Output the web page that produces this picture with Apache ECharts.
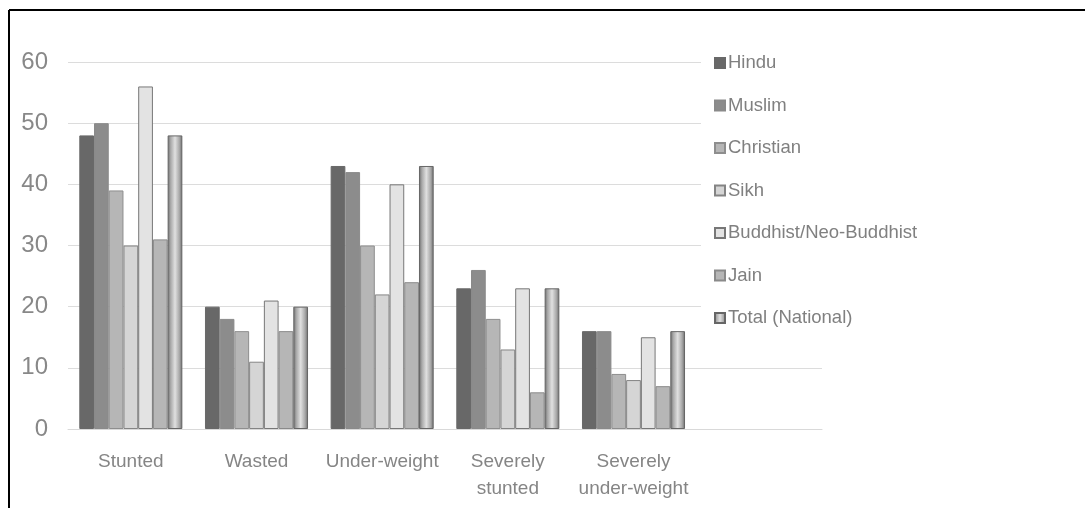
<!DOCTYPE html>
<html>
<head>
<meta charset="utf-8">
<script src="https://cdn.jsdelivr.net/npm/echarts@6/dist/echarts.min.js"></script>
<style>
  html, body { margin: 0; padding: 0; background: #fff; }
  #chart { width: 1085px; height: 508px; }
</style>
</head>
<body>
<div id="chart"></div>
<script>
// Nutrition indicators (%) by religion
const categories = ['Stunted', 'Wasted', 'Under-weight', 'Severely\nstunted', 'Severely\nunder-weight', ''];
const hindu    = [48, 20, 43, 23, 16];
const muslim   = [50, 18, 42, 26, 16];
const christian= [39, 16, 30, 18, 9];
const sikh     = [30, 11, 22, 13, 8];
const buddhist = [56, 21, 40, 23, 15];
const jain     = [31, 16, 24, 6, 7];
const total    = [48, 20, 43, 23, 16];
const yTicks   = [0, 10, 20, 30, 40, 50, 60];

const FONT = '"Liberation Sans", Arial, sans-serif';

const totalGradient = new echarts.graphic.LinearGradient(0, 0, 1, 0, [
  { offset: 0, color: '#6a6a6a' },
  { offset: 0.2, color: '#a8a8a8' },
  { offset: 0.5, color: '#e0e0e0' },
  { offset: 0.8, color: '#a8a8a8' },
  { offset: 1, color: '#6a6a6a' }
]);

const seriesDefs = [
  { name: 'Hindu', data: hindu, color: '#686868', border: '#686868' },
  { name: 'Muslim', data: muslim, color: '#8c8c8c', border: '#8a8a8a' },
  { name: 'Christian', data: christian, color: '#b6b6b6', border: '#8e8e8e' },
  { name: 'Sikh', data: sikh, color: '#d5d5d5', border: '#848484' },
  { name: 'Buddhist/Neo-Buddhist', data: buddhist, color: '#e3e3e3', border: '#777777' },
  { name: 'Jain', data: jain, color: '#b6b6b6', border: '#8a8a8a' },
  { name: 'Total (National)', data: total, color: totalGradient, border: '#666666' }
];

const chart = echarts.init(document.getElementById('chart'), null, { renderer: 'canvas' });

chart.setOption({
  animation: false,
  backgroundColor: '#ffffff',
  textStyle: { fontFamily: FONT },
  graphic: [
    { type: 'line', shape: { x1: 9, y1: 10, x2: 1085, y2: 10 }, style: { stroke: '#000', lineWidth: 2 } },
    { type: 'line', shape: { x1: 9, y1: 10, x2: 9, y2: 508 }, style: { stroke: '#000', lineWidth: 2 } }
  ],
  grid: { left: 68, right: 263, top: 62, bottom: 79, containLabel: false },
  legend: {
    orient: 'vertical',
    left: 701,
    top: 53,
    padding: [0, 0, 0, 13],
    backgroundColor: '#ffffff',
    itemWidth: 10,
    itemHeight: 10,
    itemGap: 22.5,
    icon: 'rect',
    textStyle: { color: '#808080', fontSize: 18.5, lineHeight: 20, fontFamily: FONT, padding: [0, 0, 0, -2] },
    data: seriesDefs.map(s => s.name)
  },
  xAxis: {
    type: 'category',
    data: categories,
    axisLine: { lineStyle: { color: '#d9d9d9', width: 1 } },
    axisTick: { show: false },
    axisLabel: { color: '#858585', fontSize: 19, margin: 19.5, lineHeight: 27, interval: 0, fontFamily: FONT }
  },
  yAxis: {
    type: 'value',
    min: yTicks[0],
    max: yTicks[yTicks.length - 1],
    interval: 10,
    axisLine: { show: false },
    axisTick: { show: false },
    splitLine: { lineStyle: { color: '#dcdcdc', width: 1 } },
    axisLabel: { color: '#888888', fontSize: 24, margin: 20, fontFamily: FONT }
  },
  series: seriesDefs.map(s => ({
    name: s.name,
    type: 'bar',
    data: s.data,
    barGap: '0%',
    barCategoryGap: '18%',
    itemStyle: { color: s.color, borderColor: s.border, borderWidth: 1 }
  }))
});
</script>
</body>
</html>
